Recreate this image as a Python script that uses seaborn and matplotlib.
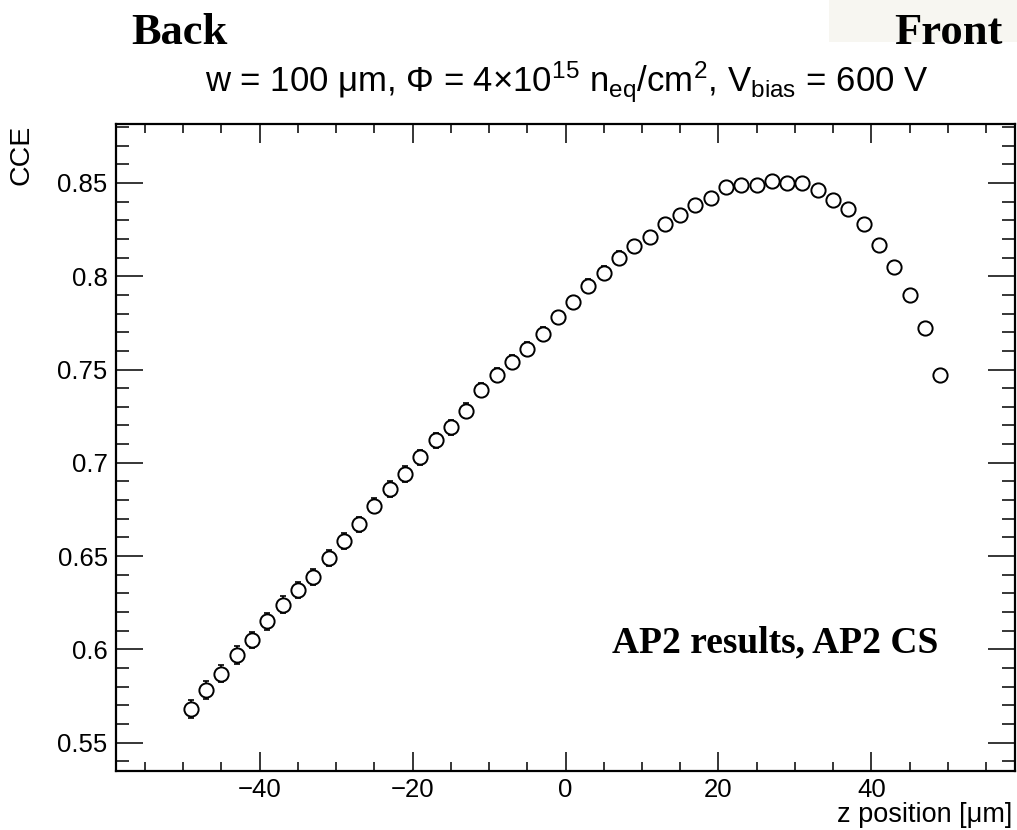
import numpy as np
import pandas as pd
import matplotlib
matplotlib.use("Agg")
import matplotlib.pyplot as plt
from matplotlib.ticker import FixedLocator, FuncFormatter
from matplotlib.patches import Rectangle
import seaborn as sns

# ---------------- data ----------------
z_pos = [-49, -47, -45, -43, -41, -39, -37, -35, -33, -31,
         -29, -27, -25, -23, -21, -19, -17, -15, -13, -11,
         -9, -7, -5, -3, -1, 1, 3, 5, 7, 9,
         11, 13, 15, 17, 19, 21, 23, 25, 27, 29,
         31, 33, 35, 37, 39, 41, 43, 45, 47, 49]
cce = [0.568, 0.578, 0.587, 0.597, 0.605, 0.615, 0.624, 0.632, 0.639, 0.649,
       0.658, 0.667, 0.677, 0.686, 0.694, 0.703, 0.712, 0.719, 0.728, 0.739,
       0.747, 0.754, 0.761, 0.769, 0.778, 0.786, 0.795, 0.802, 0.810, 0.816,
       0.821, 0.828, 0.833, 0.838, 0.842, 0.848, 0.849, 0.849, 0.851, 0.850,
       0.850, 0.846, 0.841, 0.836, 0.828, 0.817, 0.805, 0.790, 0.772, 0.747]
cce_err = [0.0050, 0.0048, 0.0047, 0.0046, 0.0045, 0.0044, 0.0044, 0.0043, 0.0043, 0.0043,
           0.0042, 0.0042, 0.0041, 0.0041, 0.0041, 0.0040, 0.0040, 0.0040, 0.0039, 0.0039,
           0.0038, 0.0038, 0.0037, 0.0037, 0.0036, 0.0036, 0.0035, 0.0035, 0.0035, 0.0034,
           0.0034, 0.0034, 0.0033, 0.0033, 0.0033, 0.0033, 0.0032, 0.0032, 0.0032, 0.0032,
           0.0032, 0.0032, 0.0032, 0.0032, 0.0032, 0.0032, 0.0032, 0.0032, 0.0032, 0.0032]

x_major = [-40, -20, 0, 20, 40]
x_minor = [-55, -50, -45, -35, -30, -25, -15, -10, -5, 5, 10, 15, 25, 30, 35, 45, 50, 55]
y_major = [0.55, 0.60, 0.65, 0.70, 0.75, 0.80, 0.85]
y_minor = [round(0.54 + 0.01 * i, 2) for i in range(35)]

title_text = "w = 100 μm, Φ = 4×10$^{15}$ n$_{eq}$/cm$^{2}$, V$_{bias}$ = 600 V"
x_label = "z position [μm]"
y_label = "CCE"
label_back = "Back"
label_front = "Front"
label_result = "AP2 results, AP2 CS"

df = pd.DataFrame({"z": z_pos, "cce": cce, "err": cce_err})

# ---------------- style ----------------
sns.set_theme(style="white")
plt.rcParams["font.family"] = ["Liberation Sans", "DejaVu Sans"]
plt.rcParams["text.color"] = "black"
plt.rcParams["axes.labelcolor"] = "black"
plt.rcParams["xtick.color"] = "black"
plt.rcParams["ytick.color"] = "black"
plt.rcParams["mathtext.fontset"] = "custom"
plt.rcParams["mathtext.rm"] = "Liberation Sans"
plt.rcParams["mathtext.it"] = "Liberation Sans:italic"
plt.rcParams["mathtext.default"] = "regular"

W, H = 1017, 830
fig = plt.figure(figsize=(W / 100, H / 100), dpi=100)
fig.patch.set_facecolor("white")

L, R, T, B = 116, 1015, 124, 771
ax = fig.add_axes([L / W, (H - B) / H, (R - L) / W, (B - T) / H])
ax.set_facecolor("white")

ax.errorbar(df["z"], df["cce"], yerr=df["err"], fmt="none", ecolor="black",
            elinewidth=1.2, capsize=2.0, capthick=1.2, zorder=2)
sns.scatterplot(data=df, x="z", y="cce", ax=ax, marker="o", s=105,
                facecolor="white", edgecolor="black", linewidth=1.4, zorder=3,
                legend=False)

ax.set_xlim(-58.8, 58.8)
ax.set_ylim(0.5348, 0.8816)

ax.xaxis.set_major_locator(FixedLocator(x_major))
ax.xaxis.set_minor_locator(FixedLocator(x_minor))
ax.yaxis.set_major_locator(FixedLocator(y_major))
ax.yaxis.set_minor_locator(FixedLocator(y_minor))
ax.xaxis.set_major_formatter(FuncFormatter(lambda v, p: f"{v:g}".replace("-", "\u2212")))
ax.yaxis.set_major_formatter(FuncFormatter(lambda v, p: f"{v:g}"))

ax.tick_params(axis="both", which="both", direction="in", top=True, right=True,
               bottom=True, left=True, colors="black", labelcolor="black", width=1.1)
ax.tick_params(axis="x", which="major", length=13.7, labelsize=18.5, pad=5)
ax.tick_params(axis="x", which="minor", length=6.8)
ax.tick_params(axis="y", which="major", length=19.4, labelsize=18.5, pad=6)
ax.tick_params(axis="y", which="minor", length=9.4)
for s in ax.spines.values():
    s.set_color("black")
    s.set_linewidth(1.6)
    s.set_visible(True)
ax.set_xlabel("")
ax.set_ylabel("")
ax.grid(False)

# axis titles (ROOT style placement)
fig.text(1012 / W, 1 - 828 / H, x_label, ha="right", va="bottom", fontsize=19.5, color="black")
fig.text(22 / W, 1 - 125 / H, y_label, ha="center", va="top", rotation=90, fontsize=20.5, color="black")

# title
fig.text(567 / W, 1 - 82 / H, title_text, ha="center", va="center", fontsize=25, color="black")

# Back / Front annotations
fig.patches.append(Rectangle((829 / W, 1 - 42 / H), (W - 829) / W, 42 / H,
                             transform=fig.transFigure, facecolor="#f7f6f1",
                             edgecolor="none", zorder=0))
fig.text(131 / W, 1 - 44 / H, label_back, ha="left", va="baseline", color="black",
         fontsize=32, fontweight="bold", family=["Liberation Serif", "DejaVu Serif"])
fig.text(1003 / W, 1 - 44 / H, label_front, ha="right", va="baseline", color="black",
         fontsize=32, fontweight="bold", family=["Liberation Serif", "DejaVu Serif"])

fig.text(938 / W, 1 - 652 / H, label_result, ha="right", va="baseline", color="black",
         fontsize=27, fontweight="bold", family=["Liberation Serif", "DejaVu Serif"])

fig.savefig("out.png", dpi=100, facecolor="white")
